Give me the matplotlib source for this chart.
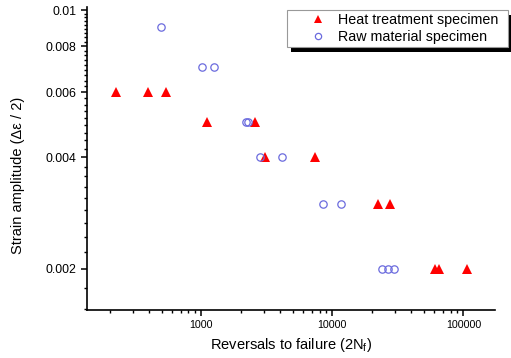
import numpy as np
import matplotlib
matplotlib.use("Agg")
import matplotlib.pyplot as plt
from matplotlib.patches import Rectangle
from matplotlib.ticker import FixedLocator, FuncFormatter, NullFormatter

plt.rcParams['font.family'] = ['Liberation Sans', 'DejaVu Sans']
plt.rcParams['mathtext.fontset'] = 'custom'
plt.rcParams['mathtext.rm'] = 'Liberation Sans'

# data
heat_reversals = [226, 392, 537, 1117, 2560, 3050, 7330, 22300, 27650, 60900, 65600, 107300]
heat_strain = [0.006, 0.006, 0.006, 0.005, 0.005, 0.004, 0.004, 0.003, 0.003, 0.002, 0.002, 0.002]

raw_reversals = [496, 1023, 1247, 2187, 2280, 2829, 4112, 8440, 11710, 24040, 26370, 29300]
raw_strain = [0.009, 0.007, 0.007, 0.005, 0.005, 0.004, 0.004, 0.003, 0.003, 0.002, 0.002, 0.002]

x_ticks = [1000, 10000, 100000]
y_ticks = [0.002, 0.004, 0.006, 0.008, 0.01]

W, H = 511, 358
fig = plt.figure(figsize=(W / 100, H / 100), dpi=100)
ax = fig.add_axes([86.7 / W, 1 - 310 / H, (495 - 86.7) / W, (310 - 7) / H])

ax.plot(heat_reversals, heat_strain, linestyle='none', marker='^', markersize=6.8,
        color='#ff0000', markeredgewidth=0, label='Heat treatment specimen')
ax.plot(raw_reversals, raw_strain, linestyle='none', marker='o', markersize=5.3,
        markerfacecolor='none', markeredgecolor='#6b6bde', markeredgewidth=0.9,
        label='Raw material specimen')

ax.set_xscale('log')
ax.set_yscale('log')
ax.set_xlim(134, 174000)
ax.set_ylim(0.001547, 0.0102)

ax.xaxis.set_major_locator(FixedLocator(x_ticks))
ax.xaxis.set_major_formatter(FuncFormatter(lambda v, p: '%d' % v))
ax.xaxis.set_minor_locator(FixedLocator([m * 10 ** e for e in range(2, 6) for m in range(2, 10)]))
ax.xaxis.set_minor_formatter(NullFormatter())

# minor ticks every 0.002/9 like the original plot
step = 0.002 / 9
minors = [k * step for k in range(7, 46) if k % 9 != 0]
ax.yaxis.set_major_locator(FixedLocator(y_ticks))
ax.yaxis.set_major_formatter(FuncFormatter(lambda v, p: '%g' % v))
ax.yaxis.set_minor_locator(FixedLocator(minors))
ax.yaxis.set_minor_formatter(NullFormatter())

for s in ['top', 'right']:
    ax.spines[s].set_visible(False)
for s in ['left', 'bottom']:
    ax.spines[s].set_linewidth(1.2)

ax.tick_params(which='major', direction='out', length=4.5, width=1.1, pad=3)
ax.tick_params(which='minor', direction='out', length=2.5, width=1.0)
ax.tick_params(axis='x', labelsize=7.7)
ax.tick_params(axis='y', labelsize=8.9)

ax.set_xlabel('Reversals to failure (2N$_\\mathregular{f}$)', fontsize=10.5, labelpad=4)
ax.set_ylabel('Strain amplitude (\u0394\u03b5 / 2)', fontsize=10.5)
ax.yaxis.set_label_coords(-0.151, 0.445)

leg = ax.legend(loc='upper left', bbox_to_anchor=(286.7 / W, 0, 221 / W, 1 - 10 / H),
                bbox_transform=fig.transFigure, mode='expand', borderaxespad=0, fontsize=10.3,
                frameon=True, fancybox=False, shadow=False,
                handlelength=4.0, handletextpad=-0.62, borderpad=0.22, labelspacing=0.22,
                markerscale=0.85)
leg.get_frame().set_edgecolor('#999999')
leg.get_frame().set_linewidth(0.8)
leg.get_frame().set_alpha(1)

# black drop shadow behind the legend box
fig.canvas.draw()
bb = leg.get_window_extent().transformed(ax.transAxes.inverted())
dx = 4 / ((495 - 86.7))
dy = 5 / (310 - 7)
shadow = Rectangle((bb.x0 + dx, bb.y0 - dy), bb.width, bb.height, transform=ax.transAxes,
                   facecolor='black', edgecolor='none', zorder=4.5, clip_on=False)
ax.add_patch(shadow)

fig.savefig('out.png', dpi=100)
